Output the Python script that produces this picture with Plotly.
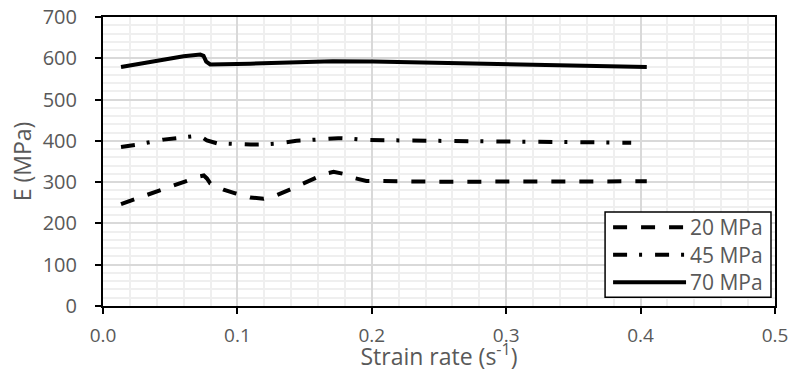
import plotly.graph_objects as go

# ---- data ----
series_names = ["20 MPa", "45 MPa", "70 MPa"]

x_20 = [0.0134, 0.0414, 0.0625, 0.0720, 0.0750, 0.0773, 0.0798, 0.0897, 0.0984, 0.1095,
        0.1195, 0.1290, 0.1390, 0.1490, 0.1570, 0.1650, 0.1715, 0.1790, 0.1870, 0.1960,
        0.2500, 0.3000, 0.3500, 0.4046]
y_20 = [247, 280, 305, 314, 316, 309, 297, 282, 273, 263,
        260, 268, 282, 297, 309, 320, 325, 320, 310, 303,
        301, 301, 302, 302]

x_45 = [0.0134, 0.0240, 0.0450, 0.0560, 0.0670, 0.0735, 0.0773, 0.0848, 0.0977, 0.1100,
        0.1200, 0.1306, 0.1440, 0.1550, 0.1650, 0.1750, 0.1850, 0.1960, 0.2500, 0.3000,
        0.3500, 0.3930]
y_45 = [385, 390, 403, 406, 411, 409, 401, 394, 392, 391,
        391.5, 394, 400, 403, 406, 406.5, 405, 402, 400, 398,
        396, 395.5]

x_70 = [0.0134, 0.0400, 0.0600, 0.0724, 0.0748, 0.0768, 0.0798, 0.1095, 0.1470, 0.1710,
        0.2010, 0.2710, 0.3450, 0.4046]
y_70 = [579, 593, 605, 609, 606, 592, 585, 587, 592, 593,
        592, 587, 582.5, 579]

x_tick_vals = [0.0, 0.1, 0.2, 0.3, 0.4, 0.5]
x_tick_text = ["0.0", "0.1", "0.2", "0.3", "0.4", "0.5"]
y_tick_vals = [0, 100, 200, 300, 400, 500, 600, 700]

dashes = ["14px,14px", "14px,12px,3px,13px", "solid"]

FONT = "Open Sans"
GRAY = "#595959"
FS_TICK = 20
FS_TITLE = 23
FS_LEG = 21

fig = go.Figure()
for name, xs, ys, d in zip(series_names, [x_20, x_45, x_70], [y_20, y_45, y_70], dashes):
    fig.add_trace(go.Scatter(x=xs, y=ys, mode="lines", name=name,
                             line=dict(color="black", width=4, dash=d),
                             showlegend=False))

axis_common = dict(
    showline=True, linecolor="black", linewidth=2, mirror=True,
    ticks="outside", ticklen=6, tickwidth=2, tickcolor="black",
    showgrid=True, gridcolor="#d9d9d9", gridwidth=1.5,
    zeroline=False,
)

fig.update_xaxes(
    range=[0, 0.5], tickvals=x_tick_vals, ticktext=x_tick_text,
    minor=dict(dtick=0.02, showgrid=True, gridcolor="#efefef", gridwidth=1.5, ticks=""),
    tickfont=dict(family=FONT, size=19, color=GRAY),
    title=dict(text="Strain rate (s<sup>-1</sup>)", font=dict(family=FONT, size=FS_TITLE, color=GRAY), standoff=0),
    ticklabelstandoff=5,
    **axis_common,
)
fig.update_yaxes(
    range=[0, 700], tickvals=y_tick_vals,
    minor=dict(dtick=20, showgrid=True, gridcolor="#efefef", gridwidth=1.5, ticks=""),
    tickfont=dict(family=FONT, size=FS_TICK, color=GRAY),
    title=dict(text="E (MPa)", font=dict(family=FONT, size=FS_TITLE, color=GRAY), standoff=5),
    ticklabelstandoff=14,
    **axis_common,
)

# ---- manual legend (long line samples like the original) ----
shapes = []
annotations = []
lx0, lx1, ly0, ly1 = 605, 771, 212, 297   # pixel box in a 791x372 page
W, H = 791, 372
ml, mr, mt, mb = 102.7, 16, 17.3, 66.3
pw, ph = W - ml - mr, H - mt - mb

def px2paper(px, py):
    return (px - ml) / pw, (H - mb - py) / ph

x0p, y0p = px2paper(lx0, ly1)
x1p, y1p = px2paper(lx1, ly0)
shapes.append(dict(type="rect", xref="paper", yref="paper", x0=x0p, y0=y0p, x1=x1p, y1=y1p,
                   line=dict(color="black", width=1.5), fillcolor="white", layer="above"))
row_y = [227, 254.5, 282]
for name, d, ry in zip(series_names, dashes, row_y):
    a, b = px2paper(613, ry)
    c, _ = px2paper(686, ry)
    shapes.append(dict(type="line", xref="paper", yref="paper", x0=a, y0=b, x1=c, y1=b,
                       line=dict(color="black", width=4, dash=d), layer="above"))
    tx, ty = px2paper(688, ry)
    annotations.append(dict(xref="paper", yref="paper", x=tx, y=ty, text=name, showarrow=False,
                            xanchor="left", yanchor="middle",
                            font=dict(family=FONT, size=FS_LEG, color=GRAY)))

fig.update_layout(
    width=W, height=H,
    margin=dict(l=ml, r=mr, t=mt, b=mb, autoexpand=False),
    plot_bgcolor="white", paper_bgcolor="white",
    shapes=shapes, annotations=annotations,
    font=dict(family=FONT, color=GRAY),
)

fig.write_html("out.html")
